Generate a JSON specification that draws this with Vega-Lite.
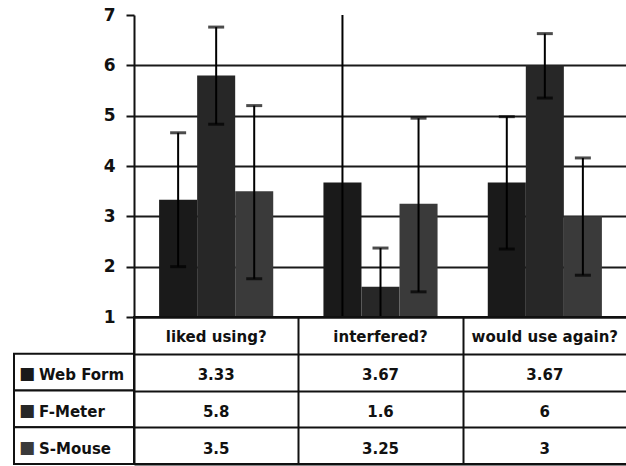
{
  "$schema": "https://vega.github.io/schema/vega-lite/v6.json",
  "padding": {"left": 13, "top": 6, "right": 0, "bottom": 2},
  "background": "white",
  "config": {"view": {"stroke": null}, "font": "DejaVu Sans"},
  "datasets": {
    "bars": [
      {"category": "liked using?", "series": "Web Form", "value": 3.33, "lo": 2.0, "hi": 4.66},
      {"category": "liked using?", "series": "F-Meter", "value": 5.8, "lo": 4.83, "hi": 6.76},
      {"category": "liked using?", "series": "S-Mouse", "value": 3.5, "lo": 1.76, "hi": 5.2},
      {"category": "interfered?", "series": "Web Form", "value": 3.67, "lo": 0.27, "hi": 7.07},
      {"category": "interfered?", "series": "F-Meter", "value": 1.6, "lo": 0.82, "hi": 2.37},
      {"category": "interfered?", "series": "S-Mouse", "value": 3.25, "lo": 1.5, "hi": 4.95},
      {"category": "would use again?", "series": "Web Form", "value": 3.67, "lo": 2.35, "hi": 4.98},
      {"category": "would use again?", "series": "F-Meter", "value": 6, "lo": 5.35, "hi": 6.63},
      {"category": "would use again?", "series": "S-Mouse", "value": 3, "lo": 1.83, "hi": 4.16}
    ],
    "categories": [
      {"category": "liked using?"},
      {"category": "interfered?"},
      {"category": "would use again?"}
    ],
    "series": [
      {"series": "Web Form"},
      {"series": "F-Meter"},
      {"series": "S-Mouse"}
    ]
  },
  "columns": 2,
  "bounds": "flush",
  "spacing": 0,
  "concat": [
    {"width": 120, "height": 302, "data": {"values": []}, "mark": "rect", "encoding": {}},
    {
      "width": 493,
      "height": 302,
      "data": {"name": "bars"},
      "encoding": {
        "x": {"field": "category", "type": "nominal", "sort": null,
          "scale": {"domain": ["liked using?", "interfered?", "would use again?"], "paddingInner": 0, "paddingOuter": 0},
          "axis": null},
        "xOffset": {"field": "series", "type": "nominal", "sort": null,
          "scale": {"domain": ["Web Form", "F-Meter", "S-Mouse"], "paddingInner": 0, "paddingOuter": 0.66}}
      },
      "layer": [
        {
          "mark": {"type": "bar", "clip": true},
          "encoding": {
            "y": {"field": "value", "type": "quantitative",
              "scale": {"domain": [1, 7], "zero": false, "nice": false},
              "axis": {"values": [1, 2, 3, 4, 5, 6, 7], "title": null, "grid": true,
                "gridColor": "#1a1a1a", "gridWidth": 2,
                "gridOpacity": {"condition": {"test": "datum.value === 7", "value": 0}, "value": 1},
                "domainColor": "#111", "domainWidth": 2, "tickColor": "#111", "tickWidth": 2, "tickSize": 8,
                "labelPadding": 11, "labelFontSize": 17, "labelFontWeight": "bold", "labelColor": "#111", "labelFont": "DejaVu Sans"}},
            "color": {"field": "series", "type": "nominal",
              "scale": {"domain": ["Web Form", "F-Meter", "S-Mouse"], "range": ["#1a1a1a", "#272727", "#3a3a3a"]},
              "legend": null}
          }
        },
        {
          "mark": {"type": "rule", "color": "#000", "strokeWidth": 2, "clip": true},
          "encoding": {"y": {"field": "lo", "type": "quantitative", "title": null}, "y2": {"field": "hi"}}
        },
        {
          "mark": {"type": "tick", "color": "#000", "thickness": 3, "size": 16, "clip": true},
          "encoding": {"y": {"field": "hi", "type": "quantitative", "title": null}}
        },
        {
          "mark": {"type": "tick", "color": "#000", "thickness": 3, "size": 16, "clip": true},
          "encoding": {"y": {"field": "lo", "type": "quantitative", "title": null}}
        }
      ]
    },
    {
      "width": 120,
      "height": 147,
      "data": {"name": "series"},
      "encoding": {
        "y": {"field": "series", "type": "nominal", "sort": null,
          "scale": {"domain": ["header", "Web Form", "F-Meter", "S-Mouse"], "paddingInner": 0, "paddingOuter": 0},
          "axis": null}
      },
      "layer": [
        {"mark": {"type": "rect", "fill": "white", "stroke": "#111", "strokeWidth": 2}},
        {"mark": {"type": "text", "text": "■", "align": "center", "dx": -47, "dy": 2, "fontSize": 17},
         "encoding": {"color": {"field": "series", "type": "nominal",
           "scale": {"domain": ["Web Form", "F-Meter", "S-Mouse"], "range": ["#1a1a1a", "#272727", "#3a3a3a"]},
           "legend": null}}},
        {"mark": {"type": "text", "align": "left", "dx": -35, "dy": 3, "fontSize": 15, "fontWeight": "bold", "color": "#111"},
         "encoding": {"text": {"field": "series", "type": "nominal"}}}
      ]
    },
    {
      "width": 493,
      "height": 147,
      "view": {"stroke": "#111", "strokeWidth": 2},
      "encoding": {
        "x": {"field": "category", "type": "nominal", "sort": null,
          "scale": {"domain": ["liked using?", "interfered?", "would use again?"], "paddingInner": 0, "paddingOuter": 0},
          "axis": {"orient": "top", "grid": true, "tickBand": "extent", "ticks": false, "labels": false, "domain": false, "title": null, "gridColor": "#111", "gridWidth": 2}}
      },
      "layer": [
        {
          "data": {"name": "bars"},
          "mark": {"type": "text", "fontSize": 15, "fontWeight": "bold", "color": "#111", "dy": 3},
          "encoding": {
            "y": {"field": "series", "type": "nominal", "sort": null,
              "scale": {"domain": ["header", "Web Form", "F-Meter", "S-Mouse"], "paddingInner": 0, "paddingOuter": 0},
              "axis": {"grid": true, "tickBand": "extent", "ticks": false, "labels": false, "domain": false, "title": null, "gridColor": "#111", "gridWidth": 2}},
            "text": {"field": "value", "type": "nominal"}
          }
        },
        {
          "data": {"name": "categories"},
          "mark": {"type": "text", "fontSize": 15, "fontWeight": "bold", "color": "#111", "dy": 2},
          "encoding": {
            "y": {"datum": "header", "type": "nominal"},
            "text": {"field": "category", "type": "nominal"}
          }
        }
      ]
    }
  ]
}
